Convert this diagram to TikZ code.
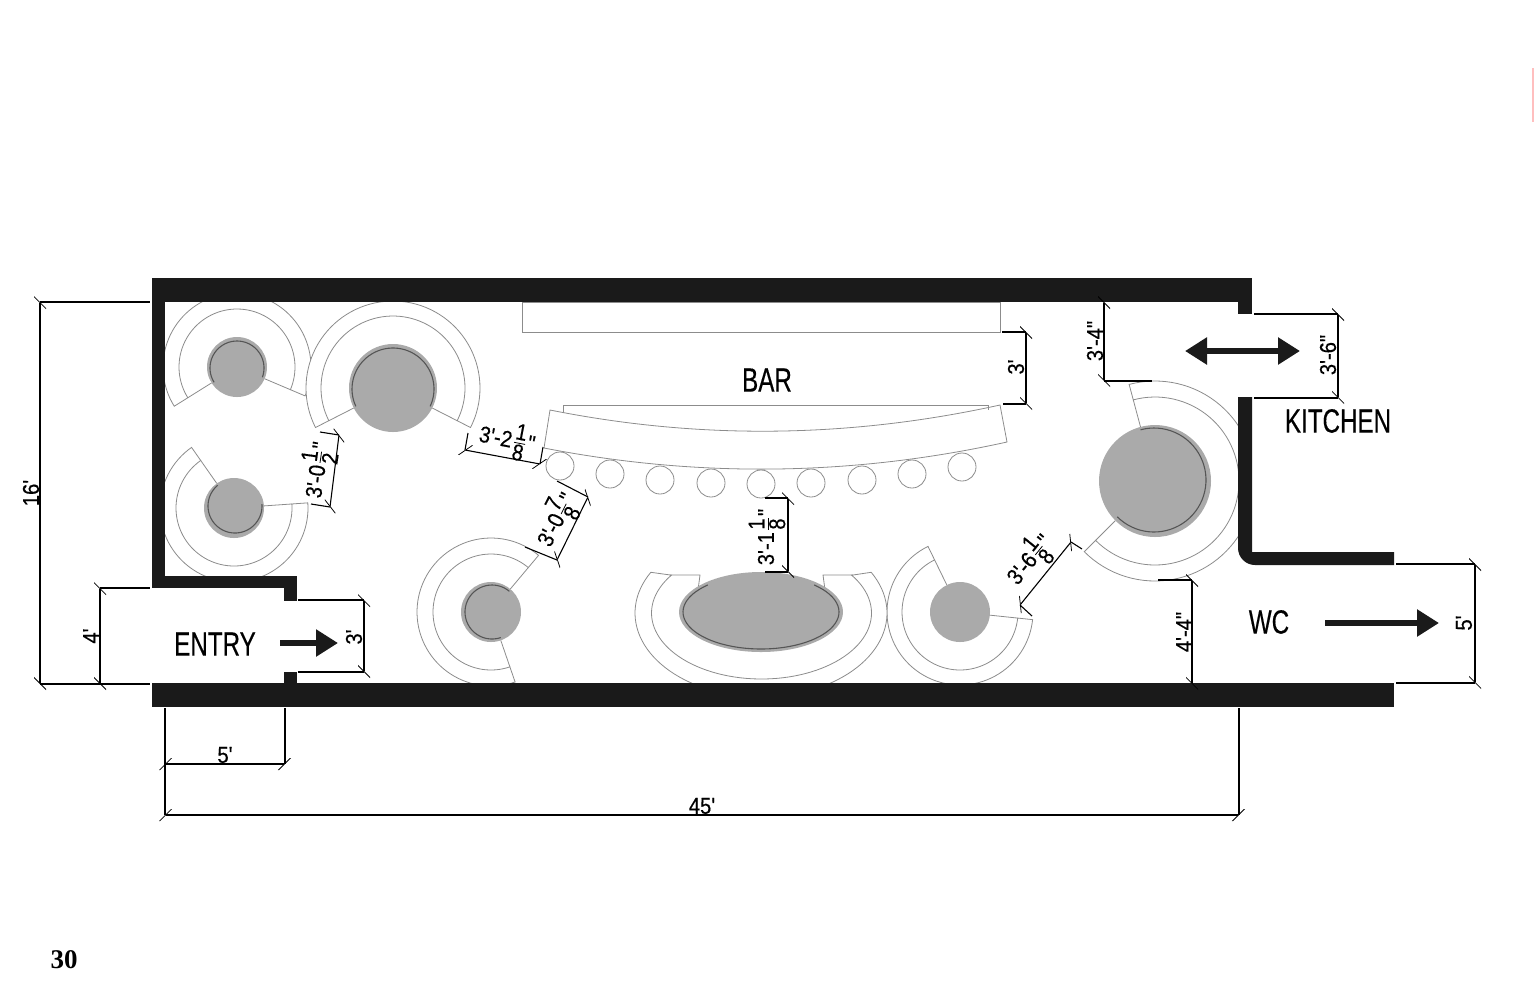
\documentclass[tikz,border=0pt]{standalone}
\usepackage{fontspec}
\usepackage{tikz}
\usetikzlibrary{arrows.meta}

\newfontfamily\planfont[FakeStretch=0.72,FakeBold=0.35]{Liberation Sans}
\newfontfamily\dimfont[FakeStretch=0.88,FakeBold=0.35]{Liberation Sans}
\newfontfamily\folio{Liberation Serif}

\definecolor{wallcol}{HTML}{1A1A1A}
\definecolor{tablecol}{HTML}{AAAAAA}
\definecolor{seatcol}{HTML}{8C8C8C}
\definecolor{trimcol}{HTML}{555555}

\tikzset{
  wall/.style={fill=wallcol},
  seatline/.style={draw=seatcol, line width=0.4pt, fill=white},
  thinline/.style={draw=seatcol, line width=0.4pt},
  tabletop/.style={fill=tablecol},
  trimline/.style={draw=trimcol, line width=0.55pt},
  dimline/.style={draw=black, line width=0.55pt,
    {Bar[width=6pt,slant=1]}-{Bar[width=6pt,slant=1]}},
  extline/.style={draw=black, line width=0.55pt},
  walkarrow/.style={draw=wallcol, line width=3pt, -{Triangle[length=11pt,width=13pt]}},
  roomlabel/.style={inner sep=0pt, font=\planfont\fontsize{16.8}{18}\selectfont},
  dimlabel/.style={inner sep=0pt, font=\dimfont\fontsize{11.5}{12}\selectfont}
}

% cx, cy, table r, inner r, outer r, from angle, to angle
\newcommand{\booth}[7]{
  \draw[seatline] plot[domain=#6:#7,samples=70] ({#1+#5*cos(\x)},{#2-#5*sin(\x)})
    -- plot[domain=#7:#6,samples=70] ({#1+#4*cos(\x)},{#2-#4*sin(\x)}) -- cycle;
  \draw[thinline] ({#1+#3*cos(#6)},{#2-#3*sin(#6)}) -- ({#1+#4*cos(#6)},{#2-#4*sin(#6)});
  \draw[thinline] ({#1+#3*cos(#7)},{#2-#3*sin(#7)}) -- ({#1+#4*cos(#7)},{#2-#4*sin(#7)});
  \fill[tabletop] (#1,#2) circle[radius=#3];
}
% cx, cy, r, from angle, to angle
\newcommand{\tabletrim}[5]{
  \draw[trimline] plot[domain=#4:#5,samples=50] ({#1+#3*cos(\x)},{#2-#3*sin(\x)});
}
\newcommand{\mixed}[2]{$\frac{\hbox{#1}}{\hbox{#2}}$}

\begin{document}
\begin{tikzpicture}[x=0.5pt, y=-0.5pt]
\useasboundingbox (0,0) rectangle (1534,992);

% --- Booths ---
\booth{237}{367}{30}{58}{74}{-23}{212}
\tabletrim{237}{368}{27}{-20}{212}
\booth{393}{388}{44}{72}{87}{-27}{207}
\tabletrim{393}{389}{41}{-25}{205}
\booth{234}{508}{30}{58}{74}{125}{364}
\tabletrim{235}{506}{27}{130}{364}
\booth{491}{612}{30}{58}{74}{50}{289}
\tabletrim{492}{612}{27}{50}{289}
\begin{scope}
  \clip (1000,300) rectangle (1240,640);
  \booth{1155}{481}{56}{84}{100}{-135}{105}
  \tabletrim{1154}{480}{52}{-135}{105}
\end{scope}
\booth{960}{612}{30}{58}{73}{116}{354}

% --- Oval booth ---
\draw[seatline] plot[domain=151:389,samples=80] ({761+126*cos(\x)},{613-84*sin(\x)})
  -- (853,575) -- plot[domain=395:145,samples=80] ({761.5+110*cos(\x)},{613-66*sin(\x)})
  -- cycle;
\draw[thinline] (670,575) -- (700,575) -- (698,590);
\draw[thinline] (853,575) -- (823,575) -- (825,590);
\fill[tabletop] (761,612) ellipse[x radius=82, y radius=40];
\draw[trimline] plot[domain=133:407,samples=60] ({761+78*cos(\x)},{612-37*sin(\x)});

% --- Bar ---
\draw[thinline] (522,302) rectangle (1000,332);
\draw[thinline] (563,413) -- (563,405) -- (988,405) -- (988,410);
\draw[seatline, fill=none] (550,410) .. controls (700,440) and (850,438) .. (1000,405)
  -- (1007,442) .. controls (853,476) and (698,478) .. (544,448) -- cycle;
\foreach \sx/\sy in {560/466,610/474,660/480,711/483,761/484,811/483,862/480,912/474,962/467}
  \draw[thinline] (\sx,\sy) circle[radius=14];

% --- Walls ---
\fill[wall] (152,278) rectangle (1252,302);
\fill[wall] (152,278) rectangle (165,588);
\fill[wall] (152,576) rectangle (297,588);
\fill[wall] (284,576) rectangle (297,601);
\fill[wall] (152,683) rectangle (1394,707);
\fill[wall] (284,672) rectangle (297,683);
\fill[wall] (1238,278) rectangle (1252,314);
\fill[wall] (1238,397) [rounded corners=8.5pt] -- (1238,565) [sharp corners] -- (1394,565)
  -- (1394,552) -- (1252,552) -- (1252,397) -- cycle;

% --- Extension lines ---
\foreach \xa/\ya/\xb/\yb in {40/302/150/302, 40/684/150/684, 100/588/150/588,
    298/600/364/600, 298/672/364/672, 285/708/285/764, 165/708/165/815,
    1239/708/1239/815, 1002/332/1026/332, 1003/404/1026/404, 1104/381/1152/381,
    1254/314/1338/314, 1254/398/1338/398, 1396/564/1475/564, 1396/683/1475/683,
    1158/580/1192/580, 320/432/339/435, 311/504/330/507, 468/433/465/450,
    543/447/540/464, 525/547/557/560, 557/481/588/497, 765/498/788/498,
    765/572/788/572, 1032/616/1020/605, 1082/549/1071/542}
  \draw[extline] (\xa,\ya) -- (\xb,\yb);

% --- Dimension lines ---
\foreach \xa/\ya/\xb/\yb in {40/302/40/684, 100/588/100/684, 364/600/364/672,
    165/764/285/764, 165/815/1239/815, 1026/332/1026/404, 1104/302/1104/381,
    1338/314/1338/398, 1475/564/1475/683, 1192/580/1192/684, 339/435/330/507,
    465/450/540/464, 557/560/588/497, 788/498/788/572, 1020/605/1071/542}
  \draw[dimline] (\xa,\ya) -- (\xb,\yb);

% --- Dimension labels ---
\foreach \nm/\xc/\yc/\ang/\txt in {a/31/493/90/16', b/91/636/90/4', c/354/637/90/3',
    d/225/755/0/5', e/702/806/0/45', f/1016/367/90/3', g/1095/341/90/3'-4",
    h/1328/355/90/3'-6", i/1464/623/90/5', j/1184/632/90/4'-4",
    k/318/470/82/3'-0\mixed{1}{2}", l/507/440/-11/3'-2\mixed{1}{8}",
    m/557/520/63/3'-0\mixed{7}{8}", n/767/537/90/3'-1\mixed{1}{8}",
    o/1030/560/51/3'-6\mixed{1}{8}"}
  \node[dimlabel, rotate=\ang] (dim\nm) at (\xc,\yc) {\txt};

% --- Room labels and arrows ---
\node[roomlabel] (bar) at (767,380) {BAR};
\node[roomlabel] (kitchen) at (1338,421) {KITCHEN};
\node[roomlabel] (entry) at (215,644) {ENTRY};
\node[roomlabel] (wc) at (1269,622) {WC};
\draw[walkarrow, {Triangle[length=11pt,width=13pt]}-{Triangle[length=11pt,width=13pt]}] (1185,351) -- (1300,351);
\draw[walkarrow] (280,643) -- (338,643);
\draw[walkarrow] (1325,623) -- (1439,623);

% --- Page ---
\node[inner sep=0pt, font=\folio\bfseries\fontsize{13.5}{15}\selectfont] (folio) at (64,960) {30};
\fill[red!25] (1532,68) rectangle (1534,122);

\end{tikzpicture}
\end{document}
